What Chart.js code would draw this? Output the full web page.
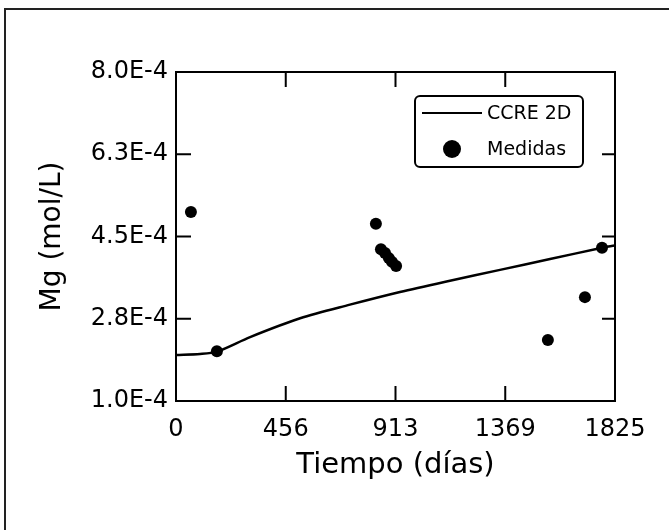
<!DOCTYPE html>
<html>
<head>
<meta charset="utf-8">
<script src="https://cdn.jsdelivr.net/npm/chart.js@4/dist/chart.umd.min.js"></script>
<style>
  html, body { margin: 0; padding: 0; background: #fff; }
  #wrap { position: relative; width: 669px; height: 530px; }
</style>
</head>
<body>
<div id="wrap"><canvas id="chart" width="669" height="530"></canvas></div>
<script>
// CCRE 2D model curve (days, mol/L)
const modelDays = [0, 100, 170, 308, 516, 723, 931, 1139, 1347, 1555, 1762, 1825];
const modelMg = [1.98e-4, 2.0e-4, 2.05e-4, 2.36e-4, 2.76e-4, 3.05e-4, 3.32e-4, 3.56e-4, 3.79e-4, 4.02e-4, 4.25e-4, 4.31e-4];

// measured values
const measuredDays = [62, 170, 831, 852, 869, 885, 898, 915, 1546, 1700, 1771];
const measuredMg = [5.02e-4, 2.06e-4, 4.77e-4, 4.23e-4, 4.15e-4, 4.04e-4, 3.96e-4, 3.87e-4, 2.30e-4, 3.21e-4, 4.26e-4];

const xTickValues = [0, 456.25, 912.5, 1368.75, 1825];
const xTickLabels = ["0", "456", "913", "1369", "1825"];
const yTickValues = [1.0e-4, 2.75e-4, 4.5e-4, 6.25e-4, 8.0e-4];
const yTickLabels = ["1.0E-4", "2.8E-4", "4.5E-4", "6.3E-4", "8.0E-4"];

const FONT = "'DejaVu Sans', sans-serif";

// box around plot, inward ticks on all sides, outer frame
const framePlugin = {
  id: "framePlugin",
  afterDatasetsDraw(chart) {
    const { ctx, chartArea: a, scales } = chart;
    ctx.save();
    ctx.strokeStyle = "#000";
    ctx.lineWidth = 2;
    ctx.strokeRect(a.left, a.top, a.right - a.left, a.bottom - a.top);
    ctx.beginPath();
    yTickValues.forEach(v => {
      const y = scales.y.getPixelForValue(v);
      ctx.moveTo(a.left, y); ctx.lineTo(a.left + 15, y);
      ctx.moveTo(a.right, y); ctx.lineTo(a.right - 13, y);
    });
    xTickValues.forEach(v => {
      const x = scales.x.getPixelForValue(v);
      ctx.moveTo(x, a.top); ctx.lineTo(x, a.top + 15);
      ctx.moveTo(x, a.bottom); ctx.lineTo(x, a.bottom - 15);
    });
    ctx.stroke();

    // outer frame
    ctx.strokeStyle = "#222";
    ctx.lineWidth = 2;
    ctx.beginPath();
    ctx.moveTo(5, 530);
    ctx.lineTo(5, 9);
    ctx.lineTo(669, 9);
    ctx.stroke();
    ctx.restore();
  }
};

// legend box drawn inside the plot
const legendBox = {
  id: "legendBox",
  afterDraw(chart) {
    const { ctx } = chart;
    const ds = chart.data.datasets;
    const x0 = 415, y0 = 96, w = 168, h = 71;
    ctx.save();
    ctx.fillStyle = "#fff";
    ctx.strokeStyle = "#000";
    ctx.lineWidth = 2;
    ctx.beginPath();
    ctx.roundRect(x0, y0, w, h, 5);
    ctx.fill();
    ctx.stroke();

    ctx.beginPath();
    ctx.lineWidth = 2;
    ctx.moveTo(422, 113);
    ctx.lineTo(482, 113);
    ctx.stroke();

    ctx.beginPath();
    ctx.fillStyle = "#000";
    ctx.arc(452, 149, 9, 0, Math.PI * 2);
    ctx.fill();

    ctx.font = "19px " + FONT;
    ctx.textBaseline = "middle";
    ctx.textAlign = "left";
    ctx.fillText(ds[0].label, 487, 114);
    ctx.fillText(ds[1].label, 487, 150);
    ctx.restore();
  }
};

new Chart(document.getElementById("chart"), {
  type: "scatter",
  data: {
    datasets: [
      {
        label: "CCRE 2D",
        data: modelDays.map((d, i) => ({ x: d, y: modelMg[i] })),
        showLine: true,
        borderColor: "#000",
        borderWidth: 2.5,
        pointRadius: 0,
        tension: 0.3,
        fill: false
      },
      {
        label: "Medidas",
        data: measuredDays.map((d, i) => ({ x: d, y: measuredMg[i] })),
        showLine: false,
        pointRadius: 6,
        pointBackgroundColor: "#000",
        pointBorderColor: "#000",
        pointBorderWidth: 0
      }
    ]
  },
  options: {
    responsive: false,
    animation: false,
    events: [],
    layout: { padding: { left: 0, right: 54, top: 72, bottom: 0 } },
    plugins: {
      legend: { display: false },
      tooltip: { enabled: false }
    },
    scales: {
      x: {
        type: "linear",
        min: 0,
        max: 1825,
        afterBuildTicks: axis => { axis.ticks = xTickValues.map(v => ({ value: v })); },
        afterFit: scale => { scale.height = 129; },
        grid: { display: false, drawTicks: false },
        border: { display: false },
        ticks: {
          color: "#000",
          padding: 14,
          maxRotation: 0,
          autoSkip: false,
          font: { family: FONT, size: 24 },
          callback: (v, i) => xTickLabels[i]
        },
        title: {
          display: true,
          text: "Tiempo (días)",
          color: "#000",
          font: { family: FONT, size: 29 },
          padding: { top: 0, bottom: 47 }
        }
      },
      y: {
        type: "linear",
        min: 1.0e-4,
        max: 8.0e-4,
        afterBuildTicks: axis => { axis.ticks = yTickValues.map(v => ({ value: v })); },
        afterFit: scale => { scale.width = 176; },
        grid: { display: false, drawTicks: false },
        border: { display: false },
        ticks: {
          color: "#000",
          padding: 8,
          autoSkip: false,
          font: { family: FONT, size: 24 },
          callback: (v, i) => yTickLabels[i]
        },
        title: {
          display: true,
          text: "Mg (mol/L)",
          color: "#000",
          font: { family: FONT, size: 28 },
          padding: { top: 36, bottom: 0 }
        }
      }
    }
  },
  plugins: [framePlugin, legendBox]
});
</script>
</body>
</html>
